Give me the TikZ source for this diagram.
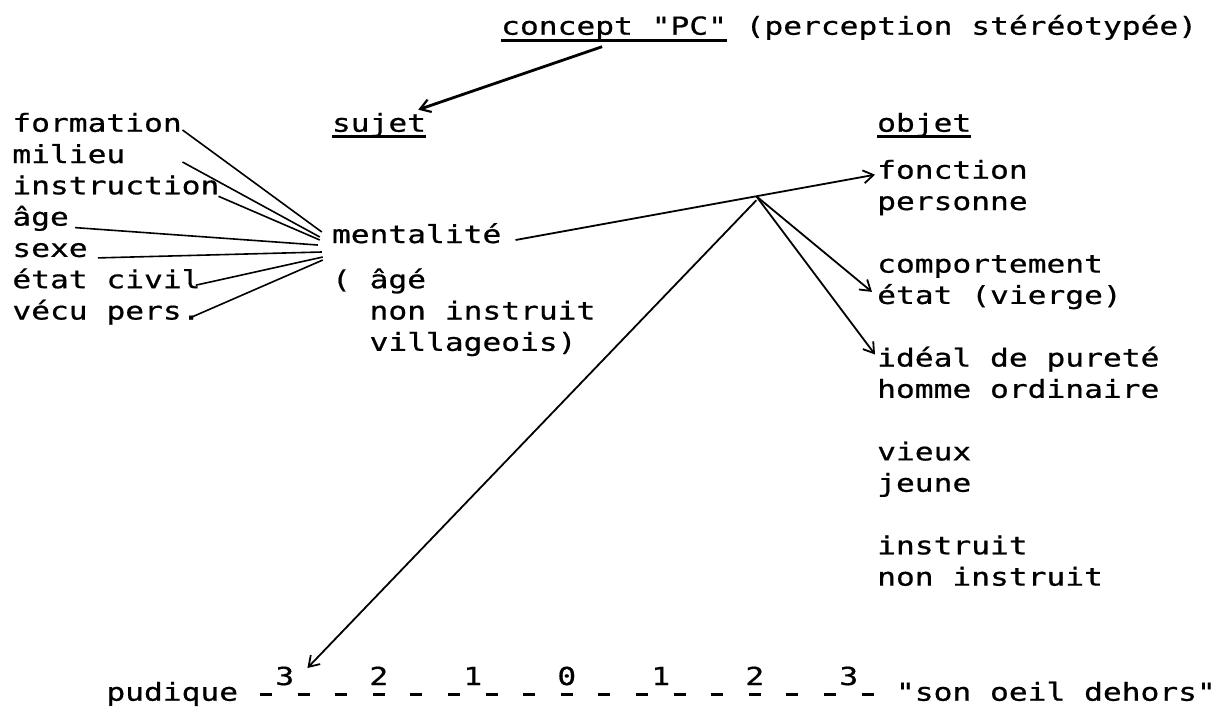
\documentclass[tikz,border=0pt]{standalone}
\usepackage{fontspec}
\newfontfamily\tw[FakeStretch=1.26,FakeBold=0.7]{DejaVu Sans Mono}
\usetikzlibrary{arrows.meta,calc}
\begin{document}
\begin{tikzpicture}[x=1pt,y=-1pt,
  txt/.style={font={\tw\fontsize{24.8}{30}\selectfont}, inner sep=0pt, anchor=base west},
  num/.style={font={\tw\fontsize{24.8}{30}\selectfont}, inner sep=0pt, anchor=base},
  link/.style={line width=1.6pt},
  arr/.style={line width=1.8pt, -{Straight Barb[length=10pt,width=13pt,line width=1.8pt]}},
  bigarr/.style={line width=2.8pt, -{Straight Barb[length=10pt,width=13pt,line width=2.2pt]}},
  uline/.style={line width=2.6pt},
  tick/.style={line width=3pt}]
\useasboundingbox (0,0) rectangle (1229,716);

% title
\node[txt] (cpc) at (501,34.7) {concept "PC"};
\node[txt] (perc) at (745.4,34.7) {(perception stéréotypée)};
\draw[uline] ([shift={(0,5.5)}]cpc.base west) -- ([shift={(0,5.5)}]cpc.base east);

% headings
\node[txt] (sujet) at (331.8,131.7) {sujet};
\node[txt] (objet) at (877,131.7) {objet};
\draw[uline] ([shift={(0,5)}]sujet.base west) -- ([shift={(0,5)}]sujet.base east);
\draw[uline] ([shift={(0,5)}]objet.base west) -- ([shift={(0,5)}]objet.base east);

% left list
\node[txt] (form) at (12.2,131.7) {formation};
\node[txt] (mil)  at (12.2,163.0) {milieu};
\node[txt] (instr) at (12.2,194.3) {instruction};
\node[txt] (age)  at (12.2,225.6) {âge};
\node[txt] (sexe) at (12.2,256.9) {sexe};
\node[txt] (etc)  at (12.2,288.2) {état civil};
\node[txt] (vec)  at (12.2,319.5) {vécu pers.};

% subject
\node[txt] (ment) at (331.8,243) {mentalité};
\node[txt] (agee) at (331.8,288.2) {( âgé};
\node[txt] (noni) at (369.4,319.5) {non instruit};
\node[txt] (vill) at (369.4,350.8) {villageois)};

% right list
\node[txt] (fonc) at (877,178.7) {fonction};
\node[txt] (pers) at (877,210.0) {personne};
\node[txt] (comp) at (877,272.6) {comportement};
\node[txt] (etat) at (877,303.9) {état (vierge)};
\node[txt] (ideal) at (877,366.5) {idéal de pureté};
\node[txt] (homme) at (877,397.8) {homme ordinaire};
\node[txt] (vieux) at (877,460.4) {vieux};
\node[txt] (jeune) at (877,491.7) {jeune};
\node[txt] (inst) at (877,554.3) {instruit};
\node[txt] (ninst) at (877,585.6) {non instruit};

% scale
\node[txt] (pud) at (106.2,700.7) {pudique};
\node[txt] (oeil) at (895.8,700.7) {"son oeil dehors"};
\node[num] (s1) at (284.8,685) {3};
\node[num] (s2) at (378.8,685) {2};
\node[num] (s3) at (472.8,685) {1};
\node[num] (s4) at (566.8,685) {0};
\node[num] (s5) at (660.8,685) {1};
\node[num] (s6) at (754.8,685) {2};
\node[num] (s7) at (848.8,685) {3};
\foreach \c in {0,2,...,32} \draw[tick] ({266+18.8*\c-6},694.5) -- ({266+18.8*\c+6},694.5);

% connectors
\draw[bigarr] ([shift={(-12,12)}]cpc.base) -- ([shift={(-8,-22)}]sujet.base east);

\draw[link] ([shift={(0.6,-1.7)}]form.base east) -- ([shift={(-10,-11)}]ment.base west);
\draw[link] ([shift={(57,-1)}]mil.base east) -- ([shift={(-12,-6)}]ment.base west);
\draw[link] ([shift={(-1,2)}]instr.base east) -- ([shift={(-12,-3)}]ment.base west);
\draw[link] ([shift={(6,2)}]age.base east) -- ([shift={(-14,2)}]ment.base west);
\draw[link] ([shift={(10,1)}]sexe.base east) -- ([shift={(-10,9)}]ment.base west);
\draw[link] ([shift={(-5,-3)}]etc.base east) -- ([shift={(-9,14)}]ment.base west);
\draw[link] ([shift={(-10,-2)}]vec.base east) -- ([shift={(-9,17)}]ment.base west);

\coordinate (mS) at ([shift={(14,-3)}]ment.base east);
\coordinate (fT) at ([shift={(-2,-4)}]fonc.base west);
\draw[arr] (mS) -- (fT);
\coordinate (J) at ($(mS)!0.67!(fT)$);
\draw[arr] (J) -- ([shift={(-5,-12)}]etat.base west);
\draw[arr] (J) -- ([shift={(-2,-12)}]ideal.base west);
\draw[arr] ([shift={(0,4)}]J) -- ([shift={(13,-17)}]s1.base east);
\end{tikzpicture}
\end{document}
